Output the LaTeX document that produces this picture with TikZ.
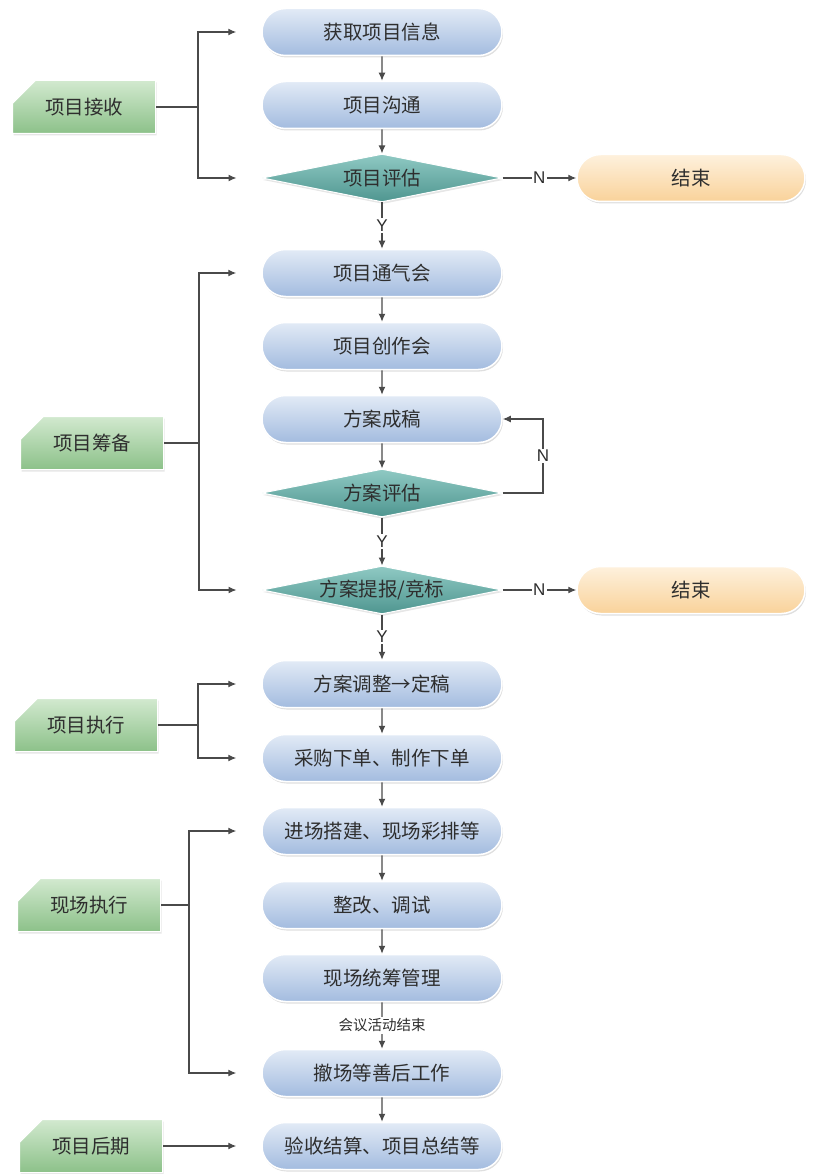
\documentclass[tikz,border=0pt]{standalone}
\usepackage{fontspec}
\newfontfamily\cjk{Noto Sans CJK SC}
\setsansfont{Liberation Sans}
\usetikzlibrary{shapes.misc,shapes.geometric,arrows.meta,shadows}
\definecolor{linec}{HTML}{4A4A4A}
\definecolor{bluetop}{HTML}{E2EAF6}
\definecolor{bluebot}{HTML}{A3BCDF}
\definecolor{tealtop}{HTML}{8FC9C3}
\definecolor{tealbot}{HTML}{4F9690}
\definecolor{orgtop}{HTML}{FEF1DD}
\definecolor{orgbot}{HTML}{F9D29A}
\definecolor{grntop}{HTML}{D2E9CF}
\definecolor{grnbot}{HTML}{8CC189}
\definecolor{txt}{HTML}{2E2E2E}
\begin{document}
\begin{tikzpicture}[x=1pt,y=-1pt,
  pill/.style={rounded rectangle, minimum width=240pt, minimum height=47pt, inner sep=0pt,
    top color=bluetop, bottom color=bluebot, draw=white, line width=1.5pt,
    drop shadow={shadow xshift=1pt, shadow yshift=-2pt, opacity=0.25},
    font=\cjk\fontsize{19.5}{22}\selectfont, text=txt},
  endpill/.style={pill, minimum width=228pt, top color=orgtop, bottom color=orgbot},
  dia/.style={diamond, aspect=5, minimum width=240pt, minimum height=48pt, inner sep=0pt,
    top color=tealtop, bottom color=tealbot, draw=white, line width=1pt,
    drop shadow={shadow xshift=1pt, shadow yshift=-2pt, opacity=0.2},
    font=\cjk\fontsize{19.5}{22}\selectfont, text=txt},
  phase/.style={chamfered rectangle, chamfered rectangle corners=north west,
    chamfered rectangle xsep=16pt, chamfered rectangle ysep=14pt,
    minimum width=143pt, minimum height=53pt, inner sep=0pt,
    top color=grntop, bottom color=grnbot, draw=white, line width=1pt,
    drop shadow={shadow xshift=1pt, shadow yshift=-2pt, opacity=0.2},
    font=\cjk\fontsize{19.5}{22}\selectfont, text=txt},
  ln/.style={draw=linec, line width=1.2pt},
  arr/.style={ln, -{Latex[length=8pt,width=7pt]}},
  lab/.style={fill=white, inner sep=1.5pt, font=\sffamily\fontsize{17}{18}\selectfont, text=txt}
]
\useasboundingbox (0,0) rectangle (812,1174);

% main column
\node[pill] (b1) at (382,32) {获取项目信息};
\node[pill] (b2) at (382,105) {项目沟通};
\node[dia]  (d1) at (382,178) {项目评估};
\node[endpill] (e1) at (691,178) {结束};
\node[pill] (b3) at (382,273) {项目通气会};
\node[pill] (b4) at (382,346) {项目创作会};
\node[pill] (b5) at (382,419) {方案成稿};
\node[dia]  (d2) at (382,493) {方案评估};
\node[dia]  (d3) at (382,590) {方案提报/竞标};
\node[endpill] (e2) at (691,590) {结束};
\node[pill] (b6) at (382,684) {方案调整→定稿};
\node[pill] (b7) at (382,758) {采购下单、制作下单};
\node[pill] (b8) at (382,831) {进场搭建、现场彩排等};
\node[pill] (b9) at (382,905) {整改、调试};
\node[pill] (b10) at (382,978) {现场统筹管理};
\node[pill] (b11) at (382,1073) {撤场等善后工作};
\node[pill] (b12) at (382,1146) {验收结算、项目总结等};

% phases
\node[phase] (g1) at (84,107) {项目接收};
\node[phase] (g2) at (92,443) {项目筹备};
\node[phase] (g3) at (86,725) {项目执行};
\node[phase] (g4) at (89,905) {现场执行};
\node[phase] (g5) at (91,1146) {项目后期};

% vertical flow
\draw[arr] (b1) -- (b2);
\draw[arr] (b2) -- (d1);
\draw[arr] (d1) -- node[lab]{Y} (b3);
\draw[arr] (b3) -- (b4);
\draw[arr] (b4) -- (b5);
\draw[arr] (b5) -- (d2);
\draw[arr] (d2) -- node[lab]{Y} (d3);
\draw[arr] (d3) -- node[lab]{Y} (b6);
\draw[arr] (b6) -- (b7);
\draw[arr] (b7) -- (b8);
\draw[arr] (b8) -- (b9);
\draw[arr] (b9) -- (b10);
\draw[arr] (b10) -- node[fill=white, inner sep=2pt, font=\cjk\fontsize{14.5}{16}\selectfont, text=txt]{会议活动结束} (b11);
\draw[arr] (b11) -- (b12);

% N branches
\draw[arr] (d1.east) -- node[lab]{N} (e1.west);
\draw[arr] (d3.east) -- node[lab]{N} (e2.west);
\coordinate (loopc) at (543,493);
\draw[arr] (d2.east) -- (loopc) |- node[lab, pos=0.25]{N} (b5.east);

% brackets
\coordinate (j1) at (198,107);
\draw[ln] (g1.east) -- (j1);
\draw[arr] (j1) |- ([xshift=-25pt]b1.west);
\draw[arr] (j1) |- ([xshift=-25pt]d1.west);

\coordinate (j2) at (199,443);
\draw[ln] (g2.east) -- (j2);
\draw[arr] (j2) |- ([xshift=-25pt]b3.west);
\draw[arr] (j2) |- ([xshift=-25pt]d3.west);

\coordinate (j3) at (198,725);
\draw[ln] (g3.east) -- (j3);
\draw[arr] (j3) |- ([xshift=-25pt]b6.west);
\draw[arr] (j3) |- ([xshift=-25pt]b7.west);

\coordinate (j4) at (189,905);
\draw[ln] (g4.east) -- (j4);
\draw[arr] (j4) |- ([xshift=-25pt]b8.west);
\draw[arr] (j4) |- ([xshift=-25pt]b11.west);

\draw[arr] (g5.east) -- ([xshift=-25pt]b12.west);
\end{tikzpicture}
\end{document}
